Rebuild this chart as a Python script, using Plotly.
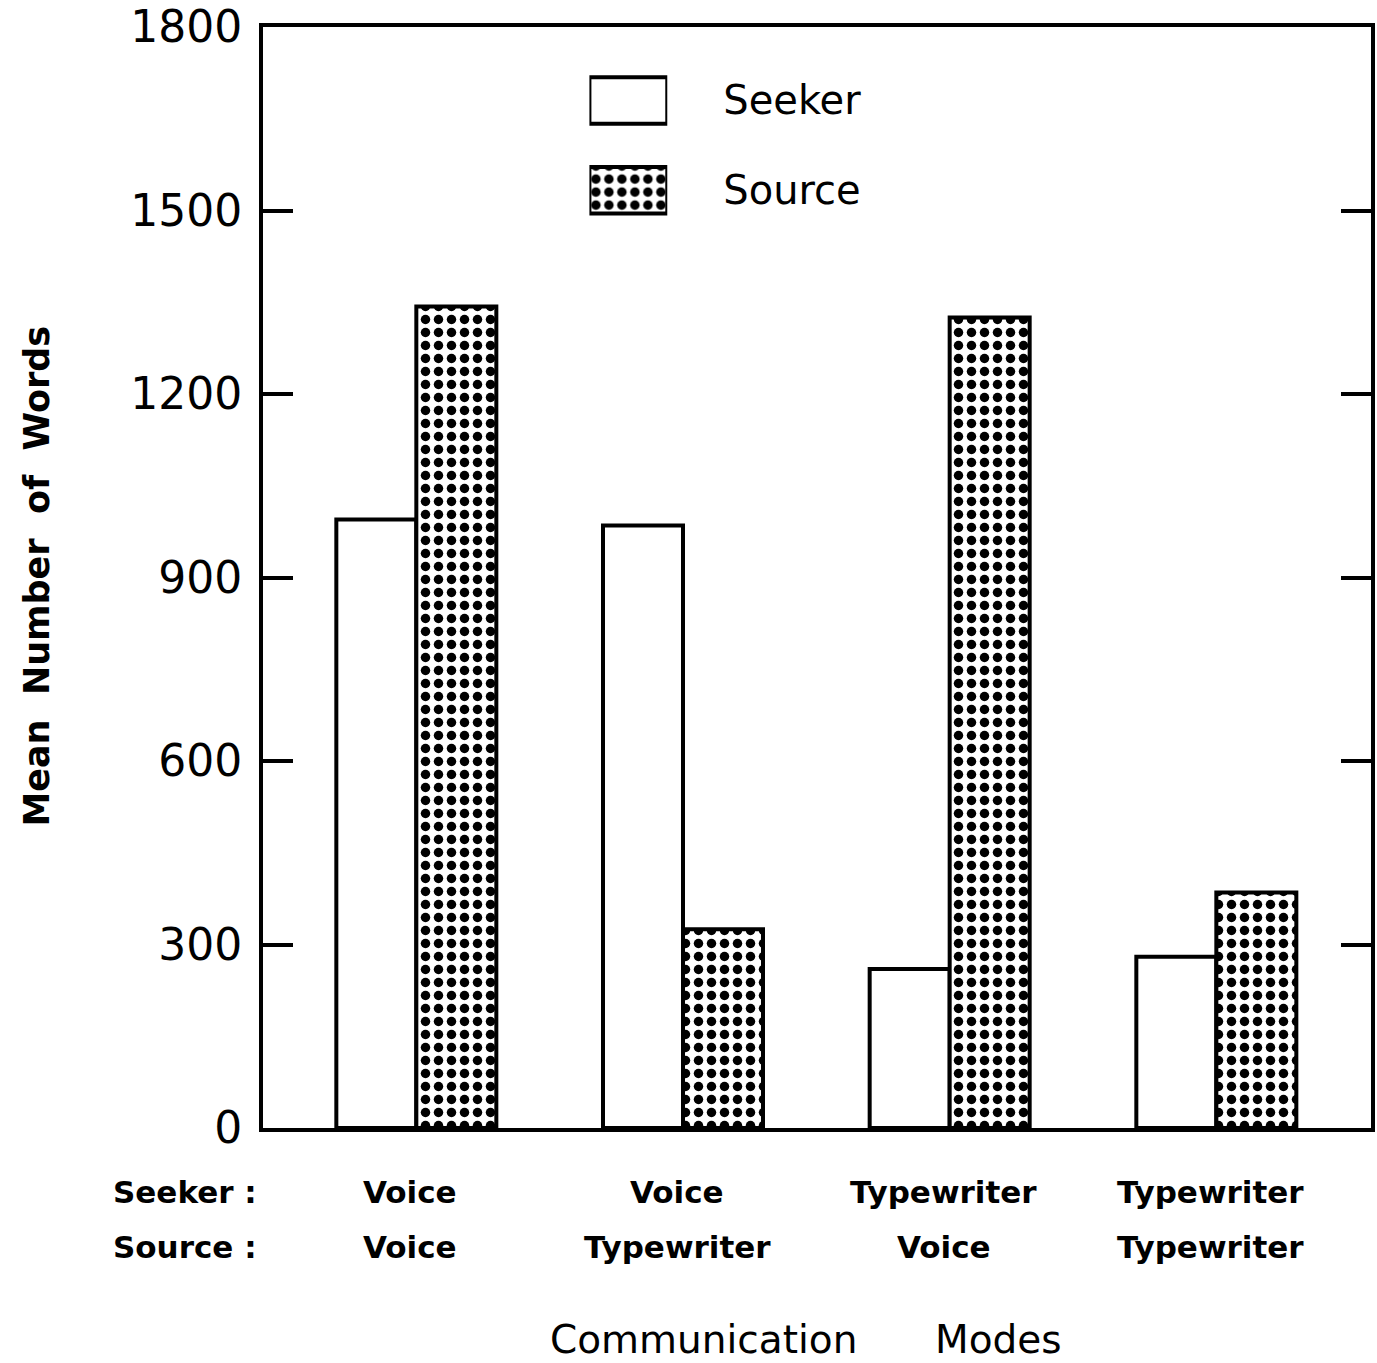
import plotly.graph_objects as go

# Mean number of words per communication mode
seeker_modes = ["Voice", "Voice", "Typewriter", "Typewriter"]
source_modes = ["Voice", "Typewriter", "Voice", "Typewriter"]
seeker_words = [995, 985, 260, 280]
source_words = [1343, 325, 1325, 385]
series_names = ["Seeker", "Source"]
y_ticks = [0, 300, 600, 900, 1200, 1500, 1800]

FONT = "DejaVu Sans"
INK = "black"
positions = list(range(len(seeker_modes)))

dot_pattern = dict(shape=".", bgcolor="white", fgcolor=INK, fgopacity=1,
                   size=13, solidity=0.42)

fig = go.Figure()

fig.add_trace(go.Bar(
    x=positions, y=seeker_words, name=series_names[0],
    marker=dict(color="white", line=dict(color=INK, width=4)),
    showlegend=False,
))
fig.add_trace(go.Bar(
    x=positions, y=source_words, name=series_names[1],
    marker=dict(color="white", line=dict(color=INK, width=4), pattern=dot_pattern),
    showlegend=False,
))

# Key swatches drawn as short horizontal bars on a small inset axis;
# the inset's tick labels carry the series names.
fig.add_trace(go.Bar(
    y=[series_names[0]], x=[1], orientation="h", width=0.52,
    xaxis="x2", yaxis="y2", showlegend=False,
    marker=dict(color="white", line=dict(color=INK, width=4)),
))
fig.add_trace(go.Bar(
    y=[series_names[1]], x=[1], orientation="h", width=0.52,
    xaxis="x2", yaxis="y2", showlegend=False,
    marker=dict(color="white", line=dict(color=INK, width=4), pattern=dot_pattern),
))

annotations = []
# Category labels, two lines per group
row_y = [-0.0585, -0.108]
for i, (sk, so) in enumerate(zip(seeker_modes, source_modes)):
    for text, yy in ((sk, row_y[0]), (so, row_y[1])):
        annotations.append(dict(
            x=i, xref="x", y=yy, yref="paper", text=text, showarrow=False,
            xanchor="center", yanchor="middle", xshift=-6,
            font=dict(family=FONT, size=31, color=INK, weight="bold"),
        ))
for text, yy in (("Seeker :", row_y[0]), ("Source :", row_y[1])):
    annotations.append(dict(
        x=-0.1368, xref="paper", y=yy, yref="paper", text=text, showarrow=False,
        xanchor="left", yanchor="middle",
        font=dict(family=FONT, size=31, color=INK, weight="bold"),
    ))

# Axis titles
annotations.append(dict(
    x=-0.2043, xref="paper", y=0.5014, yref="paper", text="Mean  Number  of  Words",
    textangle=-90, showarrow=False, xanchor="center", yanchor="middle",
    font=dict(family=FONT, size=35, color=INK, weight="bold"),
))
annotations.append(dict(
    x=(704 - 263) / 1110, xref="paper", y=-0.1922, yref="paper", text="Communication",
    showarrow=False, xanchor="center", yanchor="middle",
    font=dict(family=FONT, size=39, color=INK),
))
annotations.append(dict(
    x=(1000 - 263) / 1110, xref="paper", y=-0.1922, yref="paper", text="Modes",
    showarrow=False, xanchor="center", yanchor="middle",
    font=dict(family=FONT, size=39, color=INK),
))

fig.update_layout(
    width=1377, height=1363,
    margin=dict(l=263, r=6, t=27, b=235, autoexpand=False),
    paper_bgcolor="white", plot_bgcolor="white",
    barmode="group", bargap=0.4, bargroupgap=0,
    font=dict(family=FONT, color=INK),
    annotations=annotations,
    xaxis=dict(
        range=[-0.575, 3.58], showticklabels=False, ticks="",
        showgrid=False, zeroline=False, automargin=False,
        showline=True, linecolor=INK, linewidth=4, mirror=True,
    ),
    yaxis=dict(
        range=[0, 1800], tickvals=y_ticks, ticktext=[str(v) for v in y_ticks],
        ticks="inside", ticklen=30, tickwidth=4, tickcolor=INK,
        showgrid=False, zeroline=False, automargin=False,
        showline=True, linecolor=INK, linewidth=4, mirror="ticks",
        tickfont=dict(family=FONT, size=44, color=INK),
        ticklabelstandoff=8, ticklabeloverflow="allow",
    ),
    xaxis2=dict(
        domain=[(590 - 263) / 1110, (668 - 263) / 1110], range=[0, 1],
        anchor="y2", visible=False, fixedrange=True,
    ),
    yaxis2=dict(
        domain=[0.811, 0.974], anchor="x2", side="right",
        type="category", categoryorder="array", categoryarray=series_names,
        autorange="reversed", showline=False, showgrid=False, zeroline=False,
        ticks="", ticklabelstandoff=55, automargin=False,
        tickfont=dict(family=FONT, size=40, color=INK),
    ),
)

fig.write_html("out.html")
